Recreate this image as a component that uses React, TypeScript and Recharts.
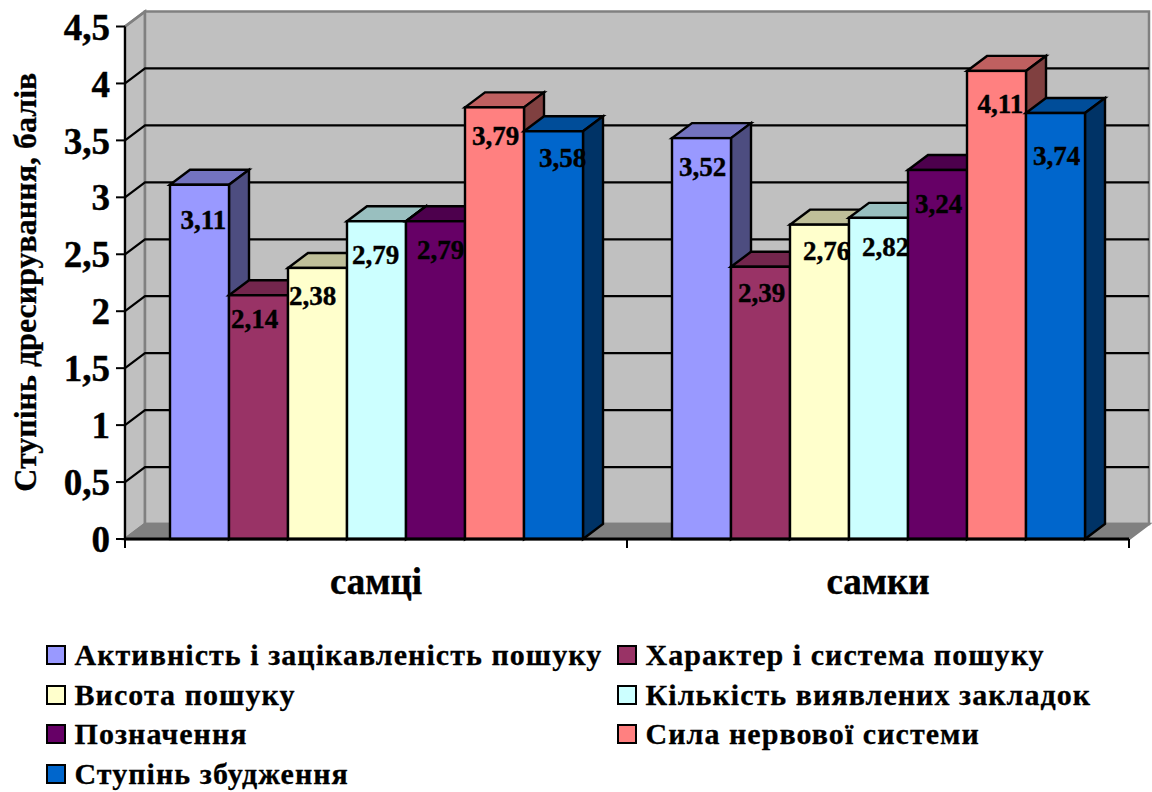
import React from "react";
import { BarChart, Bar, XAxis, YAxis, CartesianGrid, Legend, LabelList } from "recharts";

const categories = ["самці", "самки"];
const activity = [3.11, 3.52];
const searchType = [2.14, 2.39];
const searchHeight = [2.38, 2.76];
const foundCount = [2.79, 2.82];
const marking = [2.79, 3.24];
const nerveForce = [3.79, 4.11];
const excitation = [3.58, 3.74];
const yTicks = [0, 0.5, 1, 1.5, 2, 2.5, 3, 3.5, 4, 4.5];

const chartData = categories.map((name, i) => ({
  name,
  activity: activity[i],
  searchType: searchType[i],
  searchHeight: searchHeight[i],
  foundCount: foundCount[i],
  marking: marking[i],
  nerveForce: nerveForce[i],
  excitation: excitation[i],
}));

const seriesList = [
  { key: "activity", name: "Активність і зацікавленість пошуку", color: "#9999FF" },
  { key: "searchType", name: "Характер і система пошуку", color: "#993366" },
  { key: "searchHeight", name: "Висота пошуку", color: "#FFFFCC" },
  { key: "foundCount", name: "Кількість виявлених закладок", color: "#CCFFFF" },
  { key: "marking", name: "Позначення", color: "#660066" },
  { key: "nerveForce", name: "Сила нервової системи", color: "#FF8080" },
  { key: "excitation", name: "Ступінь збудження", color: "#0066CC" },
];

// where the labels sit relative to the bar centre / bar top, per series and category
const labelNudge = [
  [[3, 34], [0, 28]],
  [[-5, 23], [0, 25]],
  [[-6, 27], [6, 25]],
  [[-2, 33], [6, 28]],
  [[4, 28], [0, 33]],
  [[0, 28], [3, 32]],
  [[8, 26], [0, 42]],
];

const FONT = "'Liberation Serif', serif";
const W = 1152;
const H = 792;
const DEPTH_X = 20;
const DEPTH_Y = 15;
const PLOT_TOP = 26.5;
const PLOT_BOTTOM = 539;

function shade(hex: string, k: number) {
  const n = parseInt(hex.slice(1), 16);
  const c = (v: number) => Math.round(v * k);
  return `rgb(${c((n >> 16) & 255)},${c((n >> 8) & 255)},${c(n & 255)})`;
}

function Box3D({ x, y, width, height, fill }: any) {
  const dx = DEPTH_X;
  const dy = DEPTH_Y;
  const r = x + width;
  const b = y + height;
  return (
    <g stroke="#000" strokeWidth={2.4} strokeLinejoin="miter">
      <polygon points={`${x},${y} ${x + dx},${y - dy} ${r + dx},${y - dy} ${r},${y}`} fill={shade(fill, 0.75)} />
      <polygon points={`${r},${y} ${r + dx},${y - dy} ${r + dx},${b - dy} ${r},${b}`} fill={shade(fill, 0.5)} />
      <rect x={x} y={y} width={width} height={height} fill={fill} />
    </g>
  );
}

// walls, floor and the back-wall grid, drawn once per y tick
function WallLine({ x1, x2, y1, index }: any) {
  const left = x1;
  const right = x2;
  const backTop = PLOT_TOP - DEPTH_Y;
  const backBottom = PLOT_BOTTOM - DEPTH_Y;
  const isTop = Math.abs(y1 - PLOT_TOP) < 1;
  const isFloor = Math.abs(y1 - PLOT_BOTTOM) < 1;
  return (
    <g key={index}>
      {isFloor && (
        <g stroke="#808080" strokeWidth={2.5}>
          <polygon
            points={`${left},${PLOT_TOP} ${left + DEPTH_X},${backTop} ${left + DEPTH_X},${backBottom} ${left},${PLOT_BOTTOM}`}
            fill="#C0C0C0"
          />
          <rect x={left + DEPTH_X} y={backTop} width={right - left} height={backBottom - backTop} fill="#C0C0C0" />
          <polygon
            points={`${left},${PLOT_BOTTOM} ${left + DEPTH_X},${backBottom} ${right + DEPTH_X},${backBottom} ${right},${PLOT_BOTTOM}`}
            fill="#808080"
          />
        </g>
      )}
      {!isTop && !isFloor && (
        <polyline
          points={`${left},${y1} ${left + DEPTH_X},${y1 - DEPTH_Y} ${right + DEPTH_X},${y1 - DEPTH_Y}`}
          fill="none"
          stroke="#000"
          strokeWidth={2.2}
        />
      )}
      {isTop && (
        <line x1={left} y1={y1} x2={left + DEPTH_X} y2={y1 - DEPTH_Y} stroke="#808080" strokeWidth={2.5} />
      )}
    </g>
  );
}

function CategoryTick({ x, payload, index }: any) {
  const half = 502;
  return (
    <g>
      <line x1={x - half / 2} y1={PLOT_BOTTOM} x2={x - half / 2} y2={PLOT_BOTTOM + 9} stroke="#000" strokeWidth={2} />
      {index === categories.length - 1 && (
        <line x1={x + half / 2} y1={PLOT_BOTTOM} x2={x + half / 2} y2={PLOT_BOTTOM + 9} stroke="#000" strokeWidth={2} />
      )}
      <text
        x={x}
        y={PLOT_BOTTOM + 55}
        textAnchor="middle"
        fontFamily={FONT}
        fontWeight="bold"
        fontSize={37}
        fill="#000"
        stroke="#000"
        strokeWidth={0.4}
      >
        {payload.value}
      </text>
    </g>
  );
}

function ValueLabel({ x, y, width, value, index, seriesIndex }: any) {
  const [dx, dy] = labelNudge[seriesIndex][index];
  return (
    <text
      x={x + width / 2 + dx + 1}
      y={y + dy + 10}
      textAnchor="middle"
      fontFamily={FONT}
      fontWeight="bold"
      fontSize={27}
      fill="#000"
      stroke="#000"
      strokeWidth={0.4}
    >
      {Number(value).toFixed(2).replace(".", ",")}
    </text>
  );
}

function LegendBlock({ payload }: any) {
  return (
    <div
      style={{
        display: "grid",
        gridTemplateColumns: "571px 500px",
        marginLeft: 46,
        fontFamily: FONT,
        fontWeight: "bold",
        fontSize: 30,
        letterSpacing: 1.05,
        lineHeight: "39.7px",
        color: "#000",
        WebkitTextStroke: "0.3px #000",
      }}
    >
      {(payload || []).map((item: any) => (
        <div key={item.value} style={{ display: "flex", alignItems: "center", whiteSpace: "nowrap" }}>
          <span
            style={{
              display: "inline-block",
              width: 16,
              height: 16,
              border: "2.5px solid #000",
              background: item.color,
              marginRight: 8.5,
            }}
          />
          {item.value}
        </div>
      ))}
    </div>
  );
}

export default function App() {
  return (
    <div style={{ position: "absolute", left: 0, top: 0, width: W, height: H, background: "#fff" }}>
      <BarChart
        width={W}
        height={H}
        data={chartData}
        margin={{ top: PLOT_TOP, right: 23, bottom: H - PLOT_BOTTOM - 70, left: 0 }}
        barSize={59}
        barGap={0}
        barCategoryGap={44}
      >
        <CartesianGrid vertical={false} horizontal={(p: any) => <WallLine {...p} />} />
        <XAxis
          dataKey="name"
          height={70}
          axisLine={{ stroke: "#000", strokeWidth: 3 }}
          tickLine={false}
          tick={<CategoryTick />}
          interval={0}
        />
        <YAxis
          width={125}
          domain={[0, 4.5]}
          ticks={yTicks}
          interval={0}
          tickSize={9}
          tickMargin={6}
          axisLine={{ stroke: "#000", strokeWidth: 2.2 }}
          tickLine={{ stroke: "#000", strokeWidth: 2 }}
          tickFormatter={(v: number) => String(v).replace(".", ",")}
          tick={{ fontFamily: FONT, fontWeight: "bold", fontSize: 37, fill: "#000", stroke: "#000", strokeWidth: 0.4 }}
          label={{
            value: "Ступінь дресирування, балів",
            angle: -90,
            position: "insideLeft",
            dx: 20,
            dy: 209,
            style: { fontFamily: FONT, fontWeight: "bold", fontSize: 32, fill: "#000", stroke: "#000", strokeWidth: 0.3 },
          }}
        />
        <Legend
          content={<LegendBlock />}
          verticalAlign="bottom"
          itemSorter={null}
          wrapperStyle={{ left: 0, top: 635, bottom: "auto", width: W, height: 0 }}
        />
        {seriesList.map((s, i) => (
          <Bar key={s.key} dataKey={s.key} name={s.name} fill={s.color} shape={<Box3D />} isAnimationActive={false}>
            <LabelList dataKey={s.key} content={(p: any) => <ValueLabel {...p} seriesIndex={i} />} />
          </Bar>
        ))}
      </BarChart>
    </div>
  );
}
